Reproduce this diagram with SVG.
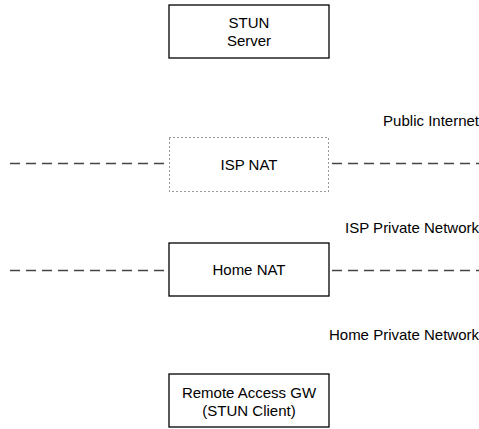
<svg xmlns="http://www.w3.org/2000/svg" width="479" height="429" viewBox="0 0 479 429">
  <style>
    text { font-family: "Liberation Sans", Arial, sans-serif; font-size: 15px; fill: #000; }
    .mid { text-anchor: middle; }
    .end { text-anchor: end; }
    .box { fill: #fff; stroke: #000; stroke-width: 1.3; }
    .dotted { fill: #fff; stroke: #333; stroke-width: 1; stroke-dasharray: 1,3; }
    .boundary { fill: none; stroke: #444; stroke-width: 1.3; stroke-dasharray: 10,6; }
  </style>
  <rect width="479" height="429" fill="#fff"/>

  <!-- network boundaries -->
  <g id="connectors">
    <line class="boundary" x1="10" y1="163.5" x2="167" y2="163.5"/>
    <line class="boundary" x1="332" y1="163.5" x2="479" y2="163.5"/>
    <line class="boundary" x1="10" y1="270.5" x2="167" y2="270.5"/>
    <line class="boundary" x1="332" y1="270.5" x2="479" y2="270.5"/>
  </g>

  <!-- zone labels -->
  <g id="zone-labels">
    <text class="end" x="479" y="125.5">Public Internet</text>
    <text class="end" x="479" y="233">ISP Private Network</text>
    <text class="end" x="479" y="340">Home Private Network</text>
  </g>

  <g id="stun-server">
    <rect class="box" x="169" y="5" width="160" height="53"/>
    <text class="mid" x="249" y="28">STUN</text>
    <text class="mid" x="249" y="46">Server</text>
  </g>

  <g id="isp-nat">
    <rect class="dotted" x="169.5" y="137.5" width="159" height="54"/>
    <text class="mid" x="249" y="170">ISP NAT</text>
  </g>

  <g id="home-nat">
    <rect class="box" x="169" y="243" width="160" height="53"/>
    <text class="mid" x="249" y="275">Home NAT</text>
  </g>

  <g id="remote-access-gw">
    <rect class="box" x="169" y="374" width="160" height="53"/>
    <text class="mid" x="249" y="398">Remote Access GW</text>
    <text class="mid" x="249" y="416">(STUN Client)</text>
  </g>
</svg>
